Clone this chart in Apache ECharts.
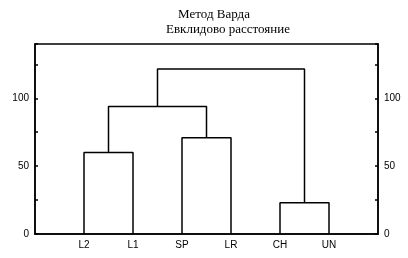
<!DOCTYPE html>
<html>
<head>
<meta charset="utf-8">
<script src="https://cdn.jsdelivr.net/npm/echarts@6/dist/echarts.min.js"></script>
<style>
  html, body { margin: 0; padding: 0; background: #fff; }
  #chart { width: 408px; height: 258px; }
</style>
</head>
<body>
<div id="chart"></div>
<script>
// leaves in dendrogram order
const leaves = ['L2', 'L1', 'SP', 'LR', 'CH', 'UN']
// linkage: ids 0..5 are leaves, merge k creates id 6 + k
const mergeLeft = [0, 2, 4, 6, 9]
const mergeRight = [1, 3, 5, 7, 8]
const mergeHeights = [60, 71, 23, 94, 121.5]
const yTicks = [0, 50, 100]

const nodeX = leaves.map((_, i) => i + 1)
const nodeH = leaves.map(() => 0)
const links = []
for (let k = 0; k < mergeHeights.length; k++) {
  const a = mergeLeft[k]
  const b = mergeRight[k]
  const h = mergeHeights[k]
  links.push([[nodeX[a], nodeH[a]], [nodeX[a], h], [nodeX[b], h], [nodeX[b], nodeH[b]]])
  nodeX.push((nodeX[a] + nodeX[b]) / 2)
  nodeH.push(h)
}

const labelFont = { fontFamily: 'Liberation Sans', fontSize: 10, color: '#000' }

function yAxis(pos) {
  return {
    type: 'value',
    position: pos,
    min: 0,
    max: 140,
    interval: 25,
    axisLine: { show: true, lineStyle: { color: '#000', width: 1.5 } },
    axisTick: { show: true, inside: true, length: 3, lineStyle: { color: '#000', width: 1.5 } },
    axisLabel: Object.assign({}, labelFont, {
      margin: 6,
      formatter: v => (yTicks.indexOf(v) >= 0 ? String(v) : '')
    }),
    splitLine: { show: false }
  }
}

const chart = echarts.init(document.getElementById('chart'))
chart.setOption({
  animation: false,
  title: [
    {
      text: 'Метод Варда',
      left: 209, top: 3, textAlign: 'center',
      textStyle: { fontFamily: 'Liberation Serif', fontSize: 13, fontWeight: 'normal', color: '#000' }
    },
    {
      text: 'Евклидово расстояние',
      left: 223, top: 18, textAlign: 'center',
      textStyle: { fontFamily: 'Liberation Serif', fontSize: 13, fontWeight: 'normal', color: '#000' }
    }
  ],
  grid: {
    left: 35, right: 30, top: 44, bottom: 24,
    show: true, borderColor: '#000', borderWidth: 1.5
  },
  xAxis: {
    type: 'value',
    min: 0,
    max: leaves.length + 1,
    interval: 1,
    axisLine: { show: true, lineStyle: { color: '#000', width: 1.5 } },
    axisTick: { show: false },
    axisLabel: Object.assign({}, labelFont, {
      margin: 6,
      formatter: v => leaves[v - 1] || ''
    }),
    splitLine: { show: false }
  },
  yAxis: [yAxis('left'), yAxis('right')],
  series: links.map(pts => ({
    type: 'line',
    data: pts,
    symbol: 'none',
    lineStyle: { color: '#000', width: 1.5 }
  }))
})
</script>
</body>
</html>
